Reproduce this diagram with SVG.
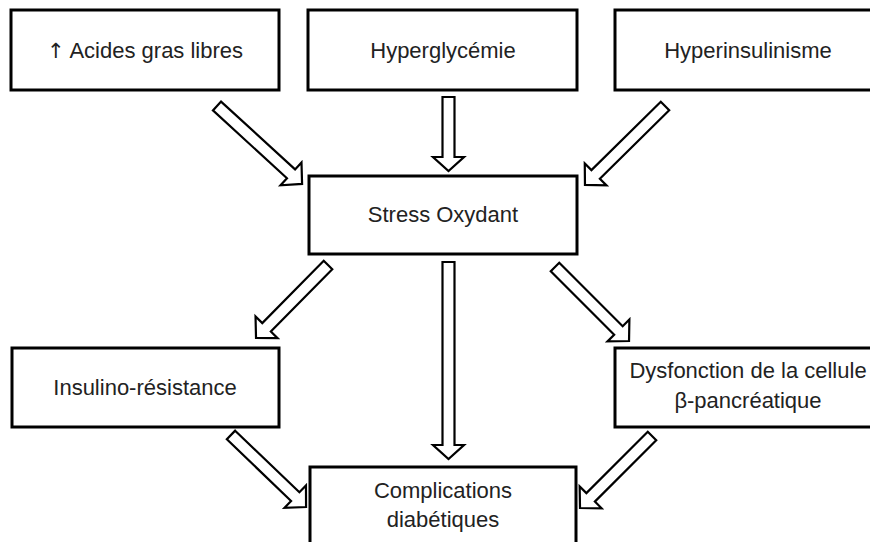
<svg xmlns="http://www.w3.org/2000/svg" width="870" height="542" viewBox="0 0 870 542">
<style>
.box{fill:#fff;stroke:#000;stroke-width:3}
.arr{fill:#fff;stroke:#000;stroke-width:2.2;stroke-linejoin:miter}
text{font-family:"Liberation Sans",Arial,sans-serif;font-size:22px;fill:#222;text-anchor:middle}
.sym{font-family:"DejaVu Sans",sans-serif;font-size:21px}
</style>
<rect width="870" height="542" fill="#fff"/>
<g id="connectors">
<polygon class="arr" transform="translate(217,106) rotate(42.5)" points="0,-6 100.4,-6 100.4,-15.5 115.4,0 100.4,15.5 100.4,6 0,6"/>
<polygon class="arr" transform="translate(448.5,97) rotate(90)" points="0,-6 60,-6 60,-15.5 74,0 60,15.5 60,6 0,6"/>
<polygon class="arr" transform="translate(665,106) rotate(135.4)" points="0,-6 97.4,-6 97.4,-15.5 112.4,0 97.4,15.5 97.4,6 0,6"/>
<polygon class="arr" transform="translate(328,265) rotate(134.6)" points="0,-6 87.5,-6 87.5,-15.5 102.5,0 87.5,15.5 87.5,6 0,6"/>
<polygon class="arr" transform="translate(448.5,262) rotate(90)" points="0,-6 183,-6 183,-15.5 197,0 183,15.5 183,6 0,6"/>
<polygon class="arr" transform="translate(555,267) rotate(45)" points="0,-6 89.7,-6 89.7,-15.5 104.7,0 89.7,15.5 89.7,6 0,6"/>
<polygon class="arr" transform="translate(231,435) rotate(43.8)" points="0,-6 89,-6 89,-15.5 104,0 89,15.5 89,6 0,6"/>
<polygon class="arr" transform="translate(652,436) rotate(135)" points="0,-6 86.8,-6 86.8,-15.5 101.8,0 86.8,15.5 86.8,6 0,6"/>
</g>
<g id="acides">
<rect class="box" x="11" y="10" width="268" height="80"/>
<text x="145" y="58"><tspan class="sym">↑</tspan> Acides gras libres</text>
</g>
<g id="hyperglycemie">
<rect class="box" x="308" y="10" width="269" height="80"/>
<text x="443" y="58">Hyperglycémie</text>
</g>
<g id="hyperinsulinisme">
<rect class="box" x="615" y="10" width="266" height="80"/>
<text x="748" y="58">Hyperinsulinisme</text>
</g>
<g id="stress">
<rect class="box" x="309" y="176" width="268" height="78"/>
<text x="443" y="222">Stress Oxydant</text>
</g>
<g id="insulino">
<rect class="box" x="12" y="348" width="267" height="79"/>
<text x="145" y="395">Insulino-résistance</text>
</g>
<g id="dysfonction">
<rect class="box" x="615" y="348" width="266" height="79"/>
<text x="748" y="378">Dysfonction de la cellule</text>
<text x="748" y="408">β-pancréatique</text>
</g>
<g id="complications">
<rect class="box" x="310" y="467" width="266" height="85"/>
<text x="443" y="498">Complications</text>
<text x="443" y="527">diabétiques</text>
</g>
</svg>
